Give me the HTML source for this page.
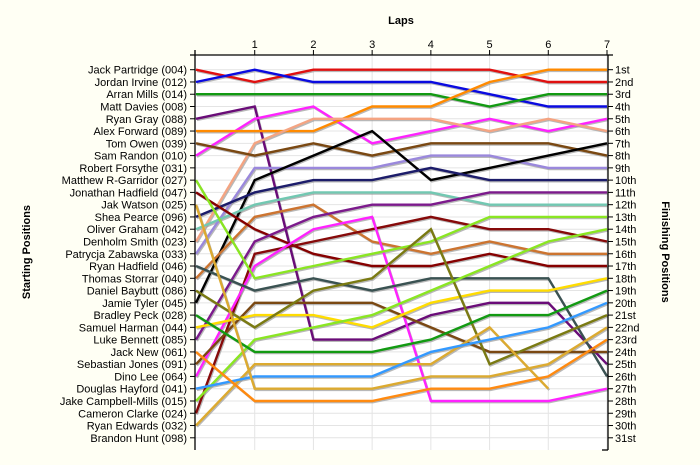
<!DOCTYPE html>
<html><head><meta charset="utf-8"><style>
html,body{margin:0;padding:0;background:#fffff4;}
svg{display:block;font-family:"Liberation Sans",Arial,sans-serif;}
</style></head><body>
<svg id="chart" width="700" height="465" viewBox="0 0 700 465">
<rect x="195" y="55" width="413" height="395" fill="#ffffff"/>
<g id="grid"></g>
<g id="shadows"></g>
<g id="series"></g>
<g id="axes"></g>
<text x="401" y="24" text-anchor="middle" font-size="11" font-weight="bold">Laps</text>
<text transform="translate(30,252) rotate(-90)" text-anchor="middle" font-size="11" font-weight="bold">Starting Positions</text>
<text transform="translate(662,252) rotate(90)" text-anchor="middle" font-size="11" font-weight="bold">Finishing Positions</text>
</svg>
<script>
const laps = [1,2,3,4,5,6,7];
const drivers = ["Jack Partridge (004)","Jordan Irvine (012)","Arran Mills (014)","Matt Davies (008)","Ryan Gray (088)","Alex Forward (089)","Tom Owen (039)","Sam Randon (010)","Robert Forsythe (031)","Matthew R-Garridor (027)","Jonathan Hadfield (047)","Jak Watson (025)","Shea Pearce (096)","Oliver Graham (042)","Denholm Smith (023)","Patrycja Zabawska (033)","Ryan Hadfield (046)","Thomas Storrar (040)","Daniel Baybutt (086)","Jamie Tyler (045)","Bradley Peck (028)","Samuel Harman (044)","Luke Bennett (085)","Jack New (061)","Sebastian Jones (091)","Dino Lee (064)","Douglas Hayford (041)","Jake Campbell-Mills (015)","Cameron Clarke (024)","Ryan Edwards (032)","Brandon Hunt (098)"];
const finishLabels = ["1st","2nd","3rd","4th","5th","6th","7th","8th","9th","10th","11th","12th","13th","14th","15th","16th","17th","18th","19th","20th","21st","22nd","23rd","24th","25th","26th","27th","28th","29th","30th","31st"];
const colors = ["#e01010","#0a0ae0","#129a12","#6a0c78","#ff22ff","#ff8a00","#f4a482","#7a4812","#9a88dc","#000000","#1c1c6a","#72c8b2","#cc7430","#860000","#7c1a8c","#860a0a","#ff22ff","#8ae622","#3a5252","#7a4812","#ffdc00","#7a7a12","#8ae622","#129a12","#dcaa30","#3399ff","#dcaa30","#ff8a10"];
const posRed      = [1,2,1,1,1,1,2,2];
const posBlue     = [2,1,2,2,2,3,4,4];
const posGreen    = [3,3,3,3,3,4,3,3];
const posPurpleA  = [5,4,23,23,21,20,20,25];
const posMagentaA = [8,5,4,7,6,5,6,5];
const posOrangeA  = [6,6,6,4,4,2,1,1];
const posSalmon   = [15,7,5,5,5,6,5,6];
const posBrownA   = [7,8,7,8,7,7,7,8];
const posLavender = [16,9,9,9,8,8,9,9];
const posBlack    = [20,10,8,6,10,9,8,7];
const posNavy     = [13,11,10,10,9,10,10,10];
const posTeal     = [14,12,11,11,11,12,12,12];
const posCopper   = [18,13,12,15,16,15,16,16];
const posDarkRedA = [11,14,16,17,17,16,17,17];
const posPurpleB  = [23,15,13,12,12,11,11,11];
const posDarkRedB = [29,16,15,14,13,14,14,15];
const posMagentaB = [26,17,14,13,28,28,28,27];
const posLimeA    = [10,18,17,16,15,13,13,13];
const posSlate    = [17,19,18,19,18,18,18,26];
const posBrownB   = [25,20,20,20,22,24,24,24];
const posYellow   = [22,21,21,22,20,19,19,18];
const posOlive    = [19,22,19,18,14,25,23,21];
const posLimeB    = [28,23,22,21,19,17,15,14];
const posGreenB   = [21,24,24,24,23,21,21,19];
const posGoldB    = [30,25,25,25,25,22,27];
const posBlueB    = [27,26,26,26,24,23,22,20];
const posGoldA    = [12,27,27,27,26,26,25,22];
const posOrangeB  = [24,28,28,28,27,27,26,23];
const series = [posRed,posBlue,posGreen,posPurpleA,posMagentaA,posOrangeA,posSalmon,posBrownA,posLavender,posBlack,posNavy,posTeal,posCopper,posDarkRedA,posPurpleB,posDarkRedB,posMagentaB,posLimeA,posSlate,posBrownB,posYellow,posOlive,posLimeB,posGreenB,posGoldB,posBlueB,posGoldA,posOrangeB];

const NS="http://www.w3.org/2000/svg";
const X0=196, X1=607, Y1=69.7, Y31=437.8;
function xScale(l){return X0+(X1-X0)*l/7;}
function yScale(p){return Y1+(Y31-Y1)*(p-1)/30;}
function mk(tag,attrs,parent){const e=document.createElementNS(NS,tag);for(const k in attrs)e.setAttribute(k,attrs[k]);parent.appendChild(e);return e;}
const grid=document.getElementById('grid'), axes=document.getElementById('axes'), sh=document.getElementById('shadows'), sg=document.getElementById('series');
for(let i=0;i<31;i++){
  const y=yScale(i+1);
  const g=mk('line',{x1:195,x2:608,y1:y,y2:y,stroke:'#e4e4e4','stroke-width':1},grid);
  
  
  const t=mk('line',{x1:190,x2:195,y1:y,y2:y,stroke:'#000'},axes);
  
  
  const t2=mk('line',{x1:608,x2:613,y1:y,y2:y,stroke:'#000'},axes);
  
  
  const lt=mk('text',{x:187,y:y+4,'text-anchor':'end','font-size':11},axes);
  lt.textContent=drivers[i];
  
  
  const rt=mk('text',{x:615,y:y+4,'font-size':11},axes);
  rt.textContent=finishLabels[i];
  
  
}
laps.forEach(l=>{
  const x=xScale(l);
  const g=mk('line',{x1:x,x2:x,y1:55,y2:450,stroke:'#e4e4e4'},grid);
  
  
  const t=mk('line',{x1:x,x2:x,y1:50,y2:55,stroke:'#000'},axes);
  
  
  const tx=mk('text',{x:x,y:48,'text-anchor':'middle','font-size':11},axes);
  tx.textContent=String(l);
  
  
});
const ax1=mk('line',{x1:195,x2:195,y1:50,y2:450,stroke:'#000','stroke-width':1.3},axes);


const ax2=mk('line',{x1:608,x2:608,y1:55,y2:450,stroke:'#000','stroke-width':1.3},axes);


const ax3=mk('line',{x1:190,x2:613,y1:55,y2:55,stroke:'#000','stroke-width':1.3},axes);


const ax4=mk('line',{x1:602,x2:608,y1:450,y2:450,stroke:'#000','stroke-width':1.3},axes);


series.forEach((s,i)=>{
  const pts=s.map((p,l)=>xScale(l).toFixed(1)+','+yScale(p).toFixed(1)).join(' ');
  const shp=mk('polyline',{points:pts,fill:'none',stroke:'#9a9a9a','stroke-width':2.2,'stroke-opacity':0.7,transform:'translate(1,1.3)','stroke-linejoin':'miter'},sh);
  
  
  const pl=mk('polyline',{points:pts,fill:'none',stroke:colors[i],'stroke-width':2.4,'stroke-linejoin':'miter'},sg);
  
  
});
</script>
</body></html>
